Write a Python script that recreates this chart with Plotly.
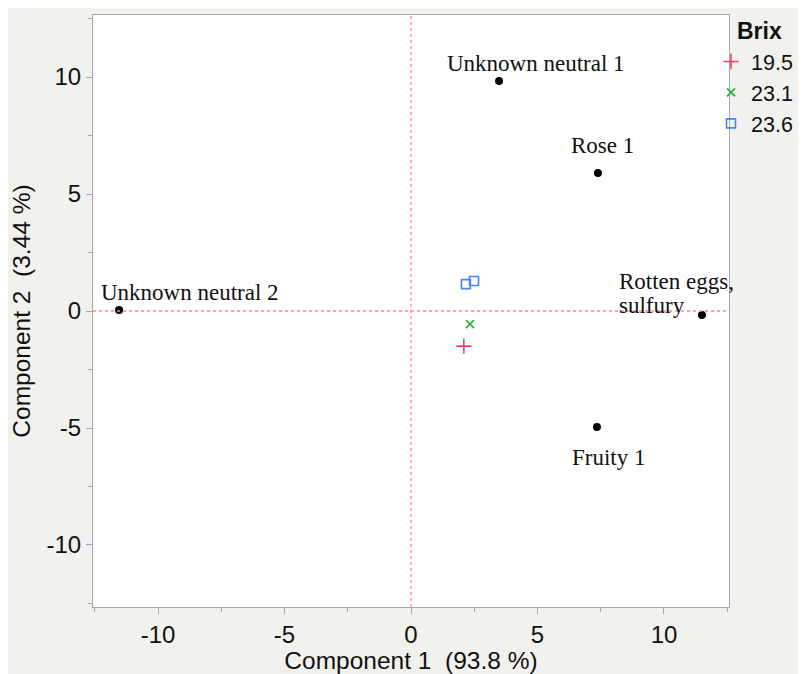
import plotly.graph_objects as go

# ---- data ----
load_labels = ["Unknown neutral 1", "Rose 1", "Unknown neutral 2", "Rotten eggs,<br>sulfury", "Fruity 1"]
load_x = [3.48, 7.39, -11.54, 11.5, 7.35]
load_y = [9.83, 5.90, 0.04, -0.17, -4.96]

brix_title = "Brix"
brix_names = ["19.5", "23.1", "23.6"]
brix_x = [[2.09], [2.33], [2.17, 2.49]]
brix_y = [[-1.50], [-0.56], [1.15, 1.28]]

tick_vals = [-10, -5, 0, 5, 10]
tick_text = ["-10", "-5", "0", "5", "10"]

# ---- styling ----
# the page body adds an 8px offset, so the figure is 798x666
W, H = 798, 666
ML, MR, MT, MB = 85, 77, 7, 67
PW, PH = W - ML - MR, H - MT - MB
GREY_BG = "#f1f1ed"
AXIS_C = "#a8a8a8"
REF_C = "#ff8a8a"
SANS = "Liberation Sans"
LINE_GAP = 24  # px between label lines

brix_styles = [
    dict(symbol="cross-thin-open", color="#f0465c", size=11, line=dict(width=1.6, color="#f0465c")),
    dict(symbol="x-thin-open", color="#2bb34b", size=8, line=dict(width=1.8, color="#2bb34b")),
    dict(symbol="square-open", color="#4a86e8", size=9, line=dict(width=1.6, color="#4a86e8")),
]
# label offsets (pixels) relative to point: (xshift, yshift of first line, xanchor)
label_offsets = [(37, 17, "center"), (5, 27, "center"), (71, 18, "center"), (-85, 33, "left"), (12, -30, "center")]

fig = go.Figure()

for name, xs, ys, st in zip(brix_names, brix_x, brix_y, brix_styles):
    fig.add_trace(go.Scatter(x=xs, y=ys, mode="markers", name=name, marker=st))

fig.add_trace(go.Scatter(x=load_x, y=load_y, mode="markers", showlegend=False,
                         marker=dict(color="black", size=8)))

for lab, x, y, (xs, ys, xa) in zip(load_labels, load_x, load_y, label_offsets):
    for i, line in enumerate(lab.split("<br>")):
        fig.add_annotation(x=x, y=y, text=line, showarrow=False, xanchor=xa, yanchor="middle",
                           xshift=xs, yshift=ys - i * LINE_GAP, align="left",
                           font=dict(family="Liberation Serif", size=23, color="#111"))

# legend title
fig.add_annotation(xref="paper", yref="paper", x=(727 - ML) / PW, y=1 - (23 - MT) / PH,
                   xanchor="left", yanchor="middle", showarrow=False,
                   text="<b>" + brix_title + "</b>",
                   font=dict(family=SANS, size=23, color="#111"))

fig.add_hline(y=0, line=dict(color=REF_C, width=1.3, dash="dot"))
fig.add_vline(x=0, line=dict(color=REF_C, width=1.3, dash="dot"))

axis_common = dict(
    showgrid=False, zeroline=False, showline=True, mirror=True, linecolor=AXIS_C, linewidth=1,
    ticks="outside", ticklen=6, tickcolor=AXIS_C, tickwidth=1,
    tickvals=tick_vals, ticktext=tick_text, automargin=False,
    tickfont=dict(family=SANS, size=24, color="#111"),
    minor=dict(ticks="outside", ticklen=4, tickcolor=AXIS_C, dtick=2.5, tick0=0, showgrid=False),
)

fig.update_layout(
    width=W, height=H,
    margin=dict(l=ML, r=MR, t=MT, b=MB, pad=0, autoexpand=False),
    paper_bgcolor=GREY_BG, plot_bgcolor="white",
    xaxis=dict(range=[-12.57, 12.57],
               title=dict(text="Component 1  (93.8 %)", standoff=0,
                          font=dict(family=SANS, size=24.5, color="#111")),
               **axis_common),
    yaxis=dict(range=[-12.65, 12.65],
               title=dict(text="Component 2  (3.44 %)", standoff=8,
                          font=dict(family=SANS, size=24.5, color="#111")),
               **axis_common),
    legend=dict(x=(703 - ML) / PW, xanchor="left", y=1 - (33 - MT) / PH, yanchor="top",
                bgcolor="rgba(0,0,0,0)",
                font=dict(family=SANS, size=21.5, color="#111"),
                itemwidth=30, tracegroupgap=0),
    showlegend=True,
)

fig.write_html("out.html")
